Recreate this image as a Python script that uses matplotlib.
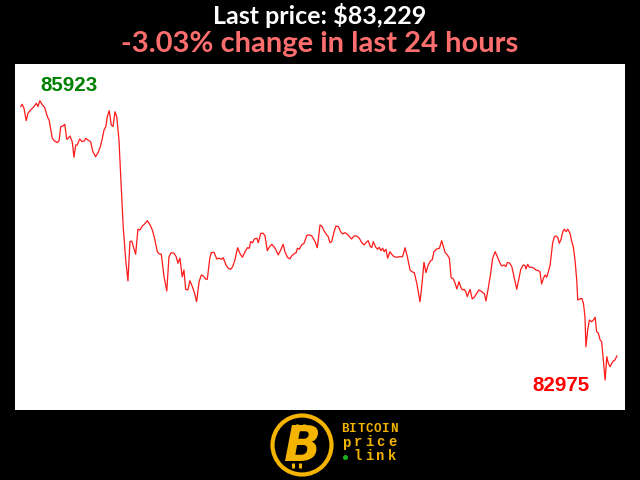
import matplotlib
matplotlib.use("Agg")
import matplotlib.pyplot as plt
from matplotlib.patches import Circle
import numpy as np

# ---- data (hours since start, BTC price in USD) ----
hours = [0.03, 0.09, 0.16, 0.25, 0.32, 0.43, 0.56, 0.66, 0.72, 0.80,
         0.90, 0.99, 1.10, 1.17, 1.30, 1.39, 1.50, 1.57, 1.64, 1.73,
         1.80, 1.88, 1.94, 2.01, 2.10, 2.17, 2.24, 2.30, 2.40, 2.50,
         2.60, 2.64, 2.73, 2.84, 2.93, 3.04, 3.14, 3.24, 3.31, 3.38,
         3.45, 3.51, 3.59, 3.67, 3.74, 3.82, 3.89, 3.98, 4.05, 4.15,
         4.25, 4.34, 4.42, 4.49, 4.58, 4.65, 4.74, 4.82, 4.92, 5.01,
         5.12, 5.23, 5.32, 5.41, 5.52, 5.60, 5.68, 5.79, 5.90, 5.99,
         6.08, 6.19, 6.28, 6.35, 6.43, 6.52, 6.59, 6.66, 6.75, 6.83,
         6.93, 7.02, 7.10, 7.20, 7.29, 7.37, 7.47, 7.53, 7.63, 7.69,
         7.80, 7.91, 8.00, 8.11, 8.17, 8.28, 8.37, 8.47, 8.55, 8.64,
         8.75, 8.84, 8.94, 9.05, 9.14, 9.22, 9.27, 9.35, 9.42, 9.52,
         9.58, 9.68, 9.78, 9.85, 9.94, 10.02, 10.12, 10.21, 10.29, 10.38,
         10.48, 10.58, 10.65, 10.75, 10.85, 10.92, 11.01, 11.10, 11.15, 11.23,
         11.32, 11.42, 11.53, 11.63, 11.73, 11.82, 11.86, 11.95, 11.99, 12.06,
         12.13, 12.22, 12.33, 12.39, 12.46, 12.53, 12.62, 12.70, 12.80, 12.89,
         12.97, 13.06, 13.16, 13.27, 13.33, 13.43, 13.53, 13.64, 13.74, 13.83,
         13.91, 14.00, 14.07, 14.14, 14.20, 14.30, 14.38, 14.44, 14.51, 14.58,
         14.64, 14.71, 14.78, 14.87, 14.94, 15.04, 15.14, 15.25, 15.38, 15.48,
         15.57, 15.68, 15.75, 15.85, 15.95, 16.08, 16.15, 16.24, 16.32, 16.41,
         16.51, 16.57, 16.64, 16.75, 16.86, 16.95, 17.02, 17.09, 17.18, 17.26,
         17.33, 17.42, 17.49, 17.56, 17.65, 17.72, 17.78, 17.85, 17.92, 17.98,
         18.09, 18.18, 18.26, 18.36, 18.45, 18.56, 18.67, 18.73, 18.83, 18.92,
         19.00, 19.10, 19.19, 19.27, 19.36, 19.46, 19.53, 19.59, 19.67, 19.77,
         19.86, 19.97, 20.03, 20.13, 20.23, 20.30, 20.34, 20.41, 20.47, 20.57,
         20.66, 20.74, 20.84, 20.90, 20.97, 21.04, 21.11, 21.17, 21.24, 21.31,
         21.41, 21.48, 21.55, 21.62, 21.68, 21.75, 21.82, 21.88, 21.95, 22.02,
         22.11, 22.18, 22.24, 22.31, 22.38, 22.42, 22.51, 22.58, 22.65, 22.71,
         22.75, 22.82, 22.89, 22.98, 23.05, 23.12, 23.18, 23.25, 23.32, 23.38,
         23.45, 23.52, 23.59, 23.65, 23.72, 23.79, 23.85, 23.92, 23.99]

prices = [85860, 85885, 85843, 85712, 85790, 85825, 85860, 85896, 85860, 85923,
          85878, 85853, 85754, 85719, 85526, 85498, 85480, 85498, 85649, 85656,
          85674, 85516, 85526, 85550, 85490, 85326, 85455, 85455, 85519, 85490,
          85501, 85526, 85508, 85490, 85385, 85332, 85374, 85445, 85526, 85614,
          85649, 85754, 85817, 85667, 85649, 85807, 85754, 85508, 85121, 84593,
          84242, 84020, 84435, 84442, 84365, 84302, 84566, 84558, 84600, 84622,
          84656, 84611, 84558, 84471, 84329, 84305, 84305, 84065, 83914, 84276,
          84319, 84312, 84276, 84207, 84260, 84065, 84136, 83932, 83925, 84023,
          83960, 83890, 83801, 84013, 84083, 84073, 84038, 84038, 84260, 84319,
          84323, 84252, 84260, 84249, 84266, 84189, 84154, 84143, 84171, 84242,
          84371, 84312, 84270, 84329, 84371, 84365, 84435, 84424, 84463, 84471,
          84424, 84523, 84523, 84495, 84340, 84376, 84407, 84382, 84347, 84294,
          84347, 84407, 84329, 84270, 84252, 84284, 84305, 84319, 84365, 84355,
          84400, 84418, 84502, 84506, 84495, 84453, 84435, 84371, 84453, 84611,
          84600, 84551, 84506, 84488, 84424, 84435, 84534, 84600, 84593, 84540,
          84516, 84530, 84513, 84481, 84463, 84495, 84495, 84471, 84424, 84400,
          84424, 84445, 84389, 84371, 84435, 84376, 84355, 84376, 84340, 84365,
          84329, 84355, 84260, 84329, 84302, 84276, 84270, 84276, 84276, 84371,
          84276, 84136, 84118, 84108, 83996, 83801, 83960, 84217, 84108, 84189,
          84234, 84242, 84329, 84358, 84365, 84445, 84382, 84319, 84294, 84260,
          84055, 84041, 83996, 83935, 84013, 83953, 83925, 83932, 83907, 83854,
          83932, 83830, 83848, 83890, 83925, 83907, 83883, 83809, 83953, 84101,
          84260, 84329, 84276, 84224, 84178, 84189, 84171, 84213, 84213, 84171,
          84065, 83932, 84013, 84143, 84189, 84182, 84147, 84196, 84165, 84165,
          84154, 84136, 84129, 84118, 83988, 84048, 84083, 84059, 84118, 84189,
          84418, 84488, 84495, 84477, 84418, 84460, 84540, 84566, 84540, 84566,
          84523, 84435, 84382, 84242, 84030, 83819, 83830, 83837, 83785, 83643,
          83326, 83503, 83608, 83590, 83608, 83637, 83485, 83468, 83397, 83379,
          83186, 82975, 83221, 83151, 83115, 83151, 83176, 83186, 83229]

title_text = "Last price: $83,229"
subtitle_text = "-3.03% change in last 24 hours"
logo_words = ["BITCOIN", "price", "link"]

# ---- figure ----
fig = plt.figure(figsize=(6.4, 4.8), dpi=100, facecolor="black")

ax = fig.add_axes([15 / 640, 70 / 480, 610 / 640, 346 / 480])
ax.set_facecolor("white")
ax.plot(hours, prices, color="#ff1a1a", linewidth=0.9, antialiased=True)
ax.set_xlim(-0.20, 24.32)
ax.set_ylim(82658, 86310)
ax.set_xticks([])
ax.set_yticks([])
for s in ax.spines.values():
    s.set_visible(False)

imax = int(np.argmax(prices))
imin = int(np.argmin(prices))
ax.annotate(str(prices[imax]), (hours[imax], prices[imax]), xytext=(0, 10),
            textcoords="offset pixels", ha="left", va="baseline",
            color="#008000", fontsize=14.8, fontweight="bold",
            family="Liberation Sans")
ax.annotate(str(prices[imin]), (hours[imin], prices[imin]), xytext=(-16, -11),
            textcoords="offset pixels", ha="right", va="baseline",
            color="#ff0000", fontsize=14.8, fontweight="bold",
            family="Liberation Sans")

fig.text(0.5, 1 - 24 / 480, title_text, ha="center", va="baseline",
         color="white", fontsize=18, fontweight="bold", family="Lato")
fig.text(0.5, 1 - 52 / 480, subtitle_text, ha="center", va="baseline",
         color="#ff6e6e", fontsize=21, fontweight="bold", family="Lato")

# ---- logo ----
lax = fig.add_axes([0, 0, 1, 70 / 480])
lax.set_xlim(0, 640)
lax.set_ylim(480, 410)
lax.axis("off")
gold = "#f5b400"
lax.add_patch(Circle((302, 445), 29.5, fill=False, lw=3.0, color=gold))
lax.text(303, 447, "B", ha="center", va="center", color=gold, fontsize=35,
         fontweight="bold", style="italic", family="DejaVu Sans")
for xs, ys in (([297, 297], [424, 429]), ([304, 304], [424, 429]),
               ([293, 293], [463, 468]), ([300, 300], [463, 468])):
    lax.plot(xs, ys, color=gold, lw=2.2, solid_capstyle="butt")


def spaced(word, x0, pitch, y, size):
    for i, ch in enumerate(word):
        lax.text(x0 + pitch * (i + 0.5), y, ch, ha="center", va="baseline",
                 color=gold, fontsize=size, fontweight="bold",
                 family="Liberation Mono")


spaced(logo_words[0], 341, 8.1, 432.5, 9)
spaced(logo_words[1], 341, 11.4, 446.5, 10)
spaced(logo_words[2], 352, 11.4, 460, 10)
lax.add_patch(Circle((345.5, 457.5), 1.8, color="#1db01d"))

fig.savefig("out.png", dpi=100, facecolor="black")
